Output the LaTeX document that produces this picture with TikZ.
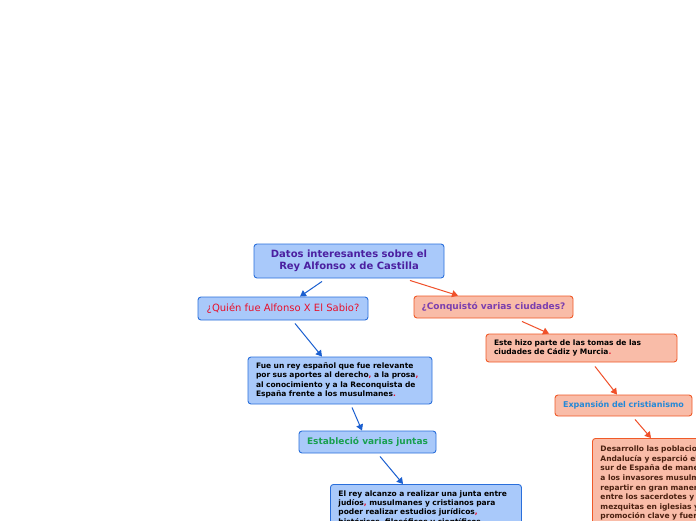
\documentclass[tikz,border=0pt]{standalone}
\usepackage{fontspec}
\setmainfont{DejaVu Sans}
\usetikzlibrary{arrows.meta}
\definecolor{bfill}{HTML}{A9C9FA}
\definecolor{bdraw}{HTML}{2A6FDB}
\definecolor{barrow}{HTML}{1A5FD0}
\definecolor{sfill}{HTML}{F9BCA8}
\definecolor{sdraw}{HTML}{F05A28}
\definecolor{sarrow}{HTML}{F0502A}
\definecolor{rootc}{HTML}{4B1FA0}
\definecolor{conqc}{HTML}{7B3FAF}
\definecolor{qred}{HTML}{E8102A}
\definecolor{green}{HTML}{18A050}
\definecolor{expc}{HTML}{2388D8}
\definecolor{desc}{HTML}{4A2010}
\definecolor{redp}{HTML}{E8102A}
\newcommand{\rc}[1]{\textcolor{redp}{#1}}
\tikzset{
  bluebox/.style={draw=bdraw, fill=bfill, rounded corners=3pt, line width=0.9pt, inner sep=0pt},
  salbox/.style={draw=sdraw, fill=sfill, rounded corners=3pt, line width=0.9pt, inner sep=0pt},
  bluearr/.style={draw=barrow, line width=1pt, -{Triangle[length=6pt,width=7pt]}},
  salarr/.style={draw=sarrow, line width=1pt, -{Triangle[length=6pt,width=7pt]}},
  small/.style={font=\fontsize{7.5}{9.3}\selectfont\bfseries, align=left},
}
\begin{document}
\begin{tikzpicture}[x=1pt,y=-1pt]
\useasboundingbox (0,0) rectangle (696,520);
\clip (0,0) rectangle (696,520);
\fill[white] (0,0) rectangle (696,520);
% root
\node[bluebox, minimum width=190pt, minimum height=34pt, align=center,
      font=\fontsize{10}{12}\selectfont\bfseries, text=rootc] (root) at (349,261)
  {Datos interesantes sobre el\\Rey Alfonso x de Castilla};
% left branch
\node[bluebox, minimum width=170pt, minimum height=23pt,
      font=\fontsize{10}{11}\selectfont, text=qred] (q1) at (283,308.5)
  {¿Quién fue Alfonso X El Sabio?};
\node[bluebox, small, minimum width=184pt, minimum height=47pt, text width=168pt, inner xsep=8pt] (b1) at (340,380.5)
  {Fue un rey español que fue relevante\\por sus aportes al derecho\rc{,} a la prosa\rc{,}\\al conocimiento y a la Reconquista de\\España frente a los musulmanes\rc{.}};
\node[bluebox, minimum width=137pt, minimum height=22pt,
      font=\fontsize{9}{10}\selectfont\bfseries, text=green] (ju) at (367.5,442)
  {Estableció varias juntas};
\node[bluebox, small, anchor=north west, text width=175pt, inner xsep=8pt, inner ysep=6pt] (b2) at (330,484)
  {El rey alcanzo a realizar una junta entre\\judíos\rc{,} musulmanes y cristianos para\\poder realizar estudios jurídicos\rc{,}\\históricos, filosóficos y científicos\\en la ciudad de Toledo.};
% right branch
\node[salbox, minimum width=159pt, minimum height=22pt,
      font=\fontsize{9}{10}\selectfont\bfseries, text=conqc] (cq) at (493.5,307)
  {¿Conquistó varias ciudades?};
\node[salbox, small, minimum width=191pt, minimum height=28pt, text width=175pt, inner xsep=8pt] (es) at (581.5,348)
  {Este hizo parte de las tomas de las\\ciudades de Cádiz y Murcia\rc{.}};
\node[salbox, minimum width=137pt, minimum height=21pt,
      font=\fontsize{8}{9}\selectfont\bfseries, text=expc] (ex) at (623.5,405.5)
  {Expansión del cristianismo};
\node[salbox, small, font=\fontsize{7.5}{9.6}\selectfont\bfseries, text=desc, anchor=north west, text width=175pt, inner xsep=8pt, inner ysep=7.5pt] (de) at (592,438)
  {Desarrollo las poblaciones de\\Andalucía y esparció el\\sur de España de manera que\\a los invasores musulmanes\\repartir en gran manera\\entre los sacerdotes y\\mezquitas en iglesias y\\promoción clave y fuerte\\cristianismo.};
% connectors
\draw[bluearr] ([xshift=-27pt,yshift=-3pt]root.south) -- ([xshift=17pt]q1.north);
\draw[salarr] ([xshift=61pt,yshift=-2pt]root.south) -- ([xshift=-35.5pt]cq.north);
\draw[bluearr] ([xshift=12pt,yshift=-3pt]q1.south) -- ([xshift=-18pt]b1.north);
\draw[bluearr] ([xshift=12pt,yshift=-3pt]b1.south) -- ([xshift=-5.5pt]ju.north);
\draw[bluearr] ([xshift=12.5pt,yshift=-3pt]ju.south) -- ([xshift=73pt]b2.north west);
\draw[salarr] ([xshift=28.5pt,yshift=-3pt]cq.south) -- ([xshift=-32.5pt]es.north);
\draw[salarr] ([xshift=13.5pt,yshift=-4pt]es.south) -- ([xshift=-6.5pt]ex.north);
\draw[salarr] ([xshift=11.5pt,yshift=-3pt]ex.south) -- ([xshift=59pt]de.north west);
\end{tikzpicture}
\end{document}
